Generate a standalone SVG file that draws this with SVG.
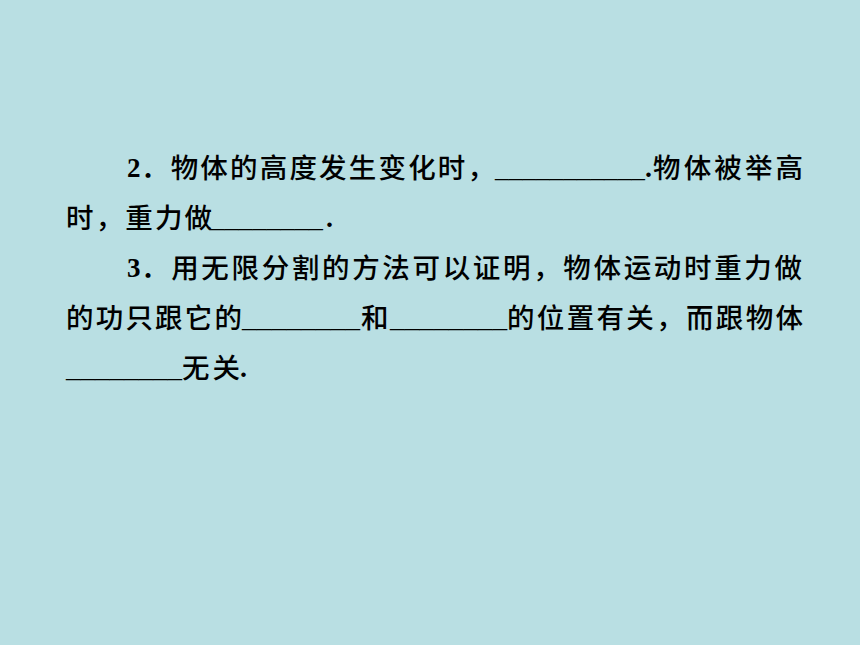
<svg xmlns="http://www.w3.org/2000/svg" width="860" height="645" viewBox="0 0 860 645">
<style>
.cjk{font-family:"Noto Sans CJK SC","Noto Sans",sans-serif;font-size:27.5px;font-weight:500;fill:#000}
.num{font-family:"Liberation Serif",serif;font-size:27px;font-weight:bold;fill:#000}
.ser{font-family:"Liberation Serif",serif;font-size:27px;fill:#000}
.dot{font-family:"Liberation Serif",serif;font-size:28px;font-weight:bold;fill:#000}
</style>
<rect x="0" y="0" width="860" height="645" fill="#B9DFE3"/>
<g id="line1">
<text class="num" x="127" y="177">2</text>
<text class="cjk" x="141" y="178" textLength="354" lengthAdjust="spacing">．物体的高度发生变化时，</text>
<text class="ser" x="495" y="177" textLength="150" lengthAdjust="spacingAndGlyphs">___________</text>
<text class="dot" x="645" y="177">.</text>
<text class="cjk" x="653" y="178" textLength="150" lengthAdjust="spacing">物体被举高</text>
</g>
<g id="line2">
<text class="cjk" x="66" y="228" textLength="146" lengthAdjust="spacing">时，重力做</text>
<text class="ser" x="210" y="227" textLength="113" lengthAdjust="spacingAndGlyphs">________</text>
<text class="dot" x="326" y="227">.</text>
</g>
<g id="line3">
<text class="num" x="127" y="277">3</text>
<text class="cjk" x="141" y="278" textLength="661" lengthAdjust="spacing">．用无限分割的方法可以证明，物体运动时重力做</text>
</g>
<g id="line4">
<text class="cjk" x="66" y="328" textLength="176" lengthAdjust="spacing">的功只跟它的</text>
<text class="ser" x="242" y="327" textLength="118" lengthAdjust="spacingAndGlyphs">________</text>
<text class="cjk" x="361" y="328">和</text>
<text class="ser" x="390" y="327" textLength="117" lengthAdjust="spacingAndGlyphs">________</text>
<text class="cjk" x="507" y="328" textLength="296" lengthAdjust="spacing">的位置有关，而跟物体</text>
</g>
<g id="line5">
<text class="ser" x="66" y="377" textLength="116" lengthAdjust="spacingAndGlyphs">________</text>
<text class="cjk" x="182" y="378" textLength="58" lengthAdjust="spacing">无关</text>
<text class="dot" x="240" y="377">.</text>
</g>
</svg>
